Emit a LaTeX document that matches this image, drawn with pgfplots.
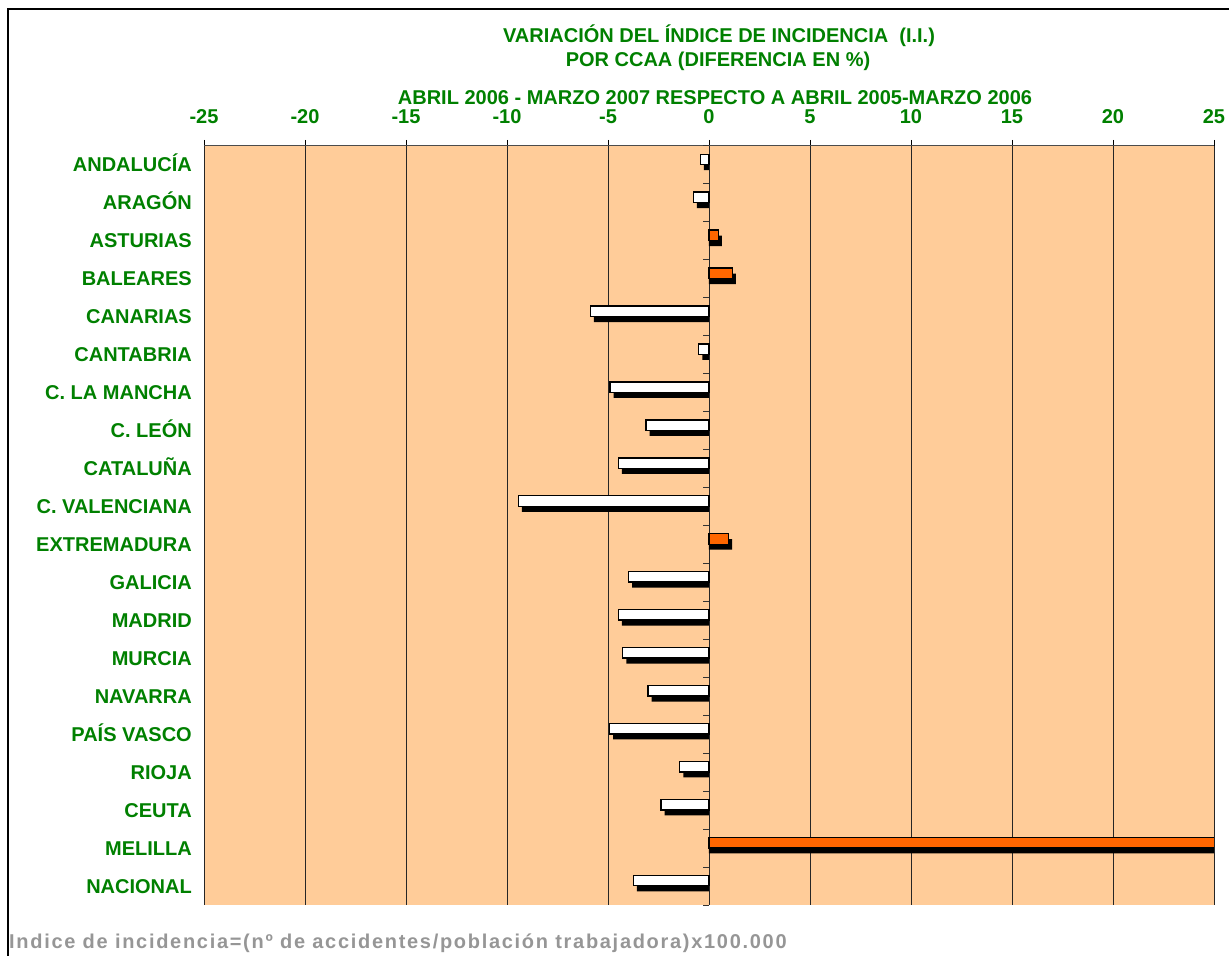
\documentclass[border=0pt]{standalone}
\usepackage{fontspec}
\setmainfont{Liberation Sans}
\usepackage{pgfplots}
\pgfplotsset{compat=1.18}
\usepackage{pgfplotstable}

\definecolor{verde}{RGB}{0,128,0}
\definecolor{melocoton}{RGB}{255,204,153}
\definecolor{naranja}{RGB}{255,102,0}
\definecolor{gris}{RGB}{150,150,150}

% idx = posicion de la comunidad (0 = Andalucia, arriba)
\pgfplotstableread{
idx v
0  -0.43
1  -0.78
4  -5.88
5  -0.51
6  -4.90
7  -3.12
8  -4.49
9  -9.44
11 -3.99
12 -4.49
13 -4.27
14 -3.02
15 -4.92
16 -1.45
17 -2.38
19 -3.75
}\negativos

\pgfplotstableread{
idx v
2  0.46
3  1.15
10 0.97
18 27.0
}\positivos

\newcommand{\etiq}{\fontsize{20bp}{23bp}\selectfont\bfseries\color{verde}}

\begin{document}
\begin{tikzpicture}[x=1bp,y=1bp]
\useasboundingbox (0,0) rectangle (1229,956);
\draw[line width=1.2bp] (8,-5) -- (8,947) -- (1235,947);

\begin{axis}[
  at={(204bp,51bp)}, anchor=south west,
  scale only axis, width=1010bp, height=759bp,
  xmin=-25, xmax=25, ymin=-0.5, ymax=19.5,
  y dir=reverse,
  axis x line*=top, axis y line*=left,
  y axis line style={draw=none},
  x axis line style={draw=black!70, line width=1bp},
  xtick={-25,-20,...,25},
  xticklabels={-25,-20,-15,-10,-5,0,5,10,15,20,25},
  tick align=outside, major tick length=6bp,
  xtick style={black, line width=0.8bp},
  xmajorgrids, grid style={black!85, line width=0.8bp},
  ytick={0,...,19},
  yticklabels={ANDALUCÍA,ARAGÓN,ASTURIAS,BALEARES,CANARIAS,CANTABRIA,C. LA MANCHA,C. LEÓN,CATALUÑA,C. VALENCIANA,EXTREMADURA,GALICIA,MADRID,MURCIA,NAVARRA,PAÍS VASCO,RIOJA,CEUTA,MELILLA,NACIONAL},
  ytick style={draw=none},
  yticklabel style={font=\etiq, anchor=east, inner sep=0pt, text height=14bp, text depth=0pt, xshift=-6bp},
  xticklabel style={font=\etiq, anchor=south, inner sep=0pt, text height=14bp, text depth=0pt, yshift=16bp},
  axis background/.style={fill=melocoton},
  xbar, bar width=10.5bp,
]
% sombras
\addplot[draw=none, fill=black, bar shift=0bp] table[x expr=\thisrow{v}+0.18, y=idx]{\negativos};
\addplot[draw=none, fill=black, bar shift=0bp] table[x expr=\thisrow{v}+0.18, y=idx]{\positivos};
% barras
\addplot[draw=black, line width=1.4bp, fill=white, bar shift=5.5bp] table[x=v, y=idx]{\negativos};
\addplot[draw=black, line width=1.4bp, fill=naranja, bar shift=5.5bp] table[x=v, y=idx]{\positivos};
% marcas del eje cero
\pgfplotsinvokeforeach{-0.5,0.5,...,19.5}{
  \draw[black!80, line width=1bp] (axis cs:0,#1) -- ++(-6bp,0pt);
}
\end{axis}

\node[font=\etiq] at (719,920) {VARIACIÓN DEL ÍNDICE DE INCIDENCIA\ \ (I.I.)};
\node[font=\etiq] at (718,895) {POR CCAA (DIFERENCIA EN \%)};
\node[font=\etiq] at (715,858) {ABRIL 2006 - MARZO 2007 RESPECTO A ABRIL 2005-MARZO 2006};
\node[anchor=west, inner sep=0pt, text=gris,
  font=\fontsize{20bp}{23bp}\selectfont\bfseries\addfontfeature{LetterSpace=8.5}] at (9,13)
  {Indice de incidencia=(nº de accidentes/población trabajadora)x100.000};
\end{tikzpicture}
\end{document}
